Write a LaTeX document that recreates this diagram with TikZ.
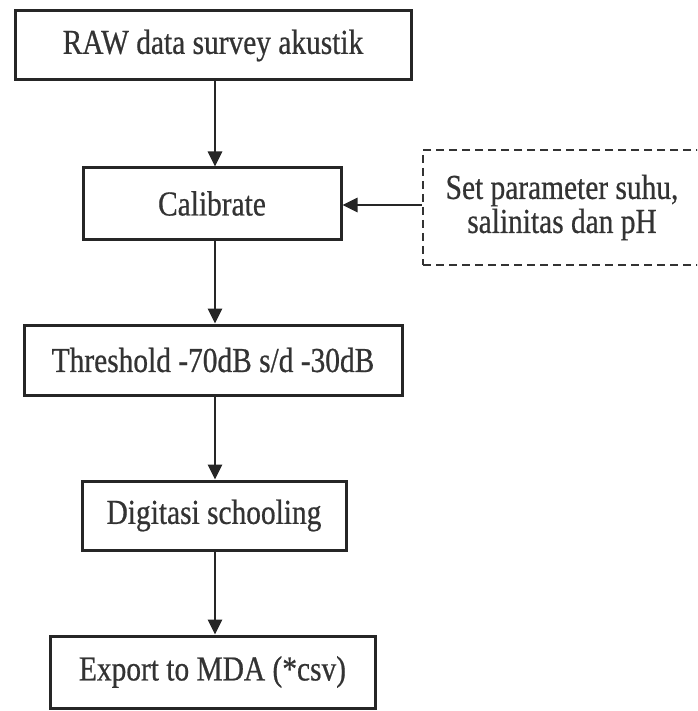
\documentclass[tikz,border=0pt]{standalone}
\usepackage{fontspec}
\setmainfont[FakeStretch=0.84,FakeBold=0.6]{Liberation Serif}
\usetikzlibrary{arrows.meta}
\begin{document}
\begin{tikzpicture}[x=1pt,y=-1pt,
  font=\fontsize{35}{38}\selectfont,
  stepbox/.style={draw=black!85, line width=3pt, inner sep=0pt, align=center, text=black!80},
  dashbox/.style={draw=black!80, line width=2.8pt, dash pattern=on 8pt off 5pt, inner sep=0pt, align=center, text=black!80},
  flow/.style={draw=black!85, line width=2.8pt, -{Triangle[length=15pt,width=14pt]}}]
\useasboundingbox (0,0) rectangle (697,711);
\clip (0,0) rectangle (697,711);
\node[stepbox, minimum width=396pt, minimum height=69pt] (raw) at (213,45.5) {RAW data survey akustik};
\node[stepbox, minimum width=258pt, minimum height=71pt] (cal) at (212,203.5) {Calibrate};
\node[stepbox, minimum width=378pt, minimum height=70pt] (thr) at (213,360) {Threshold -70dB s/d -30dB};
\node[stepbox, minimum width=264pt, minimum height=69pt] (dig) at (214,515.5) {Digitasi schooling};
\node[stepbox, minimum width=325pt, minimum height=72pt] (exp) at (212.5,672) {Export to MDA (*csv)};
\node[dashbox, minimum width=278pt, minimum height=115pt] (par) at (562,207.5) {Set parameter suhu,\\[-4pt] salinitas dan pH};
\draw[flow] (raw.south -| 215,0) -- (cal.north -| 215,0);
\draw[flow] (cal.south -| 215,0) -- (thr.north -| 215,0);
\draw[flow] (thr.south -| 215,0) -- (dig.north -| 215,0);
\draw[flow] (dig.south -| 215,0) -- (exp.north -| 215,0);
\draw[flow] (par.west |- 0,205) -- (cal.east |- 0,205);
\end{tikzpicture}
\end{document}
